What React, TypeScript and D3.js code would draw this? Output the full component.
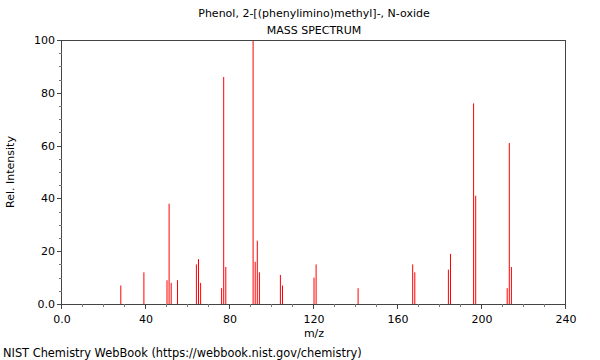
import React from "react";
import * as d3 from "d3";

const mz = [28, 39, 50, 51, 52, 55, 64, 65, 66, 76, 77, 78, 91, 92, 93, 94, 104, 105, 120, 121, 141, 167, 168, 184, 185, 196, 197, 212, 213, 214];
const intensity = [7, 12, 9, 38, 8, 9, 15, 17, 8, 6, 86, 14, 100, 16, 24, 12, 11, 7, 10, 15, 6, 15, 12, 13, 19, 76, 41, 6, 61, 14];
const xTicks = [0, 40, 80, 120, 160, 200, 240];
const yTicks = [0, 20, 40, 60, 80, 100];
const title = "Phenol, 2-[(phenylimino)methyl]-, N-oxide";
const subtitle = "MASS SPECTRUM";
const xLabel = "m/z";
const yLabel = "Rel. Intensity";
const footer = "NIST Chemistry WebBook (https://webbook.nist.gov/chemistry)";

export default function App() {
  const W = 600, H = 360;
  const L = 62, R = 566, T = 40, B = 304;
  const x = d3.scaleLinear().domain([0, 240]).range([L, R]);
  const y = d3.scaleLinear().domain([0, 100]).range([B, T]);
  const xMinor = d3.range(0, 241, 10).filter((v) => v % 40 !== 0);
  const yMinor = d3.range(0, 101, 5).filter((v) => v % 20 !== 0);
  const font = "DejaVu Sans, sans-serif";
  const axisColor = "#444";
  const fmt = (v: number) => (v === 0 ? "0.0" : String(v));
  return (
    <svg width={W} height={H} style={{ position: "absolute", left: 0, top: 0, background: "#fff" }} fontFamily={font}>
      <rect x={0} y={0} width={W} height={H} fill="#fff" />
      <text x={(L + R) / 2} y={17} textAnchor="middle" fontSize={11} fill="#000">{title}</text>
      <text x={(L + R) / 2} y={34} textAnchor="middle" fontSize={11} fill="#000">{subtitle}</text>
      {mz.map((m, i) => (
        <line key={i} x1={x(m)} x2={x(m)} y1={y(0)} y2={y(intensity[i])} stroke="#ff0000" strokeWidth={1} />
      ))}
      <line x1={L} x2={R} y1={T + 0.5} y2={T + 0.5} stroke={axisColor} />
      <line x1={R - 0.5} x2={R - 0.5} y1={T} y2={B} stroke={axisColor} />
      <line x1={L - 0.5} x2={L - 0.5} y1={T} y2={B} stroke={axisColor} />
      <line x1={L} x2={R} y1={B + 0.5} y2={B + 0.5} stroke={axisColor} />
      {xTicks.map((t) => (
        <g key={"xt" + t}>
          <line x1={Math.round(x(t)) - 0.5} x2={Math.round(x(t)) - 0.5} y1={B} y2={B + 5} stroke={axisColor} />
          <text x={x(t)} y={B + 19} textAnchor="middle" fontSize={11} fill="#000">{fmt(t)}</text>
        </g>
      ))}
      {xMinor.map((t) => (
        <line key={"xm" + t} x1={Math.round(x(t)) - 0.5} x2={Math.round(x(t)) - 0.5} y1={B} y2={B + 3} stroke="#777" />
      ))}
      {yTicks.map((t) => (
        <g key={"yt" + t}>
          <line x1={L - 5} x2={L} y1={Math.round(y(t)) + 0.5} y2={Math.round(y(t)) + 0.5} stroke={axisColor} />
          <text x={L - 7} y={y(t) + 4} textAnchor="end" fontSize={11} fill="#000">{fmt(t)}</text>
        </g>
      ))}
      {yMinor.map((t) => (
        <line key={"ym" + t} x1={L - 3} x2={L} y1={Math.round(y(t)) + 0.5} y2={Math.round(y(t)) + 0.5} stroke="#777" />
      ))}
      <text x={(L + R) / 2} y={337} textAnchor="middle" fontSize={11} fill="#000">{xLabel}</text>
      <text transform={`translate(14, ${(T + B) / 2}) rotate(-90)`} textAnchor="middle" fontSize={11} fill="#000">{yLabel}</text>
      <text x={3} y={357} fontSize={11.4} fill="#000">{footer}</text>
    </svg>
  );
}
